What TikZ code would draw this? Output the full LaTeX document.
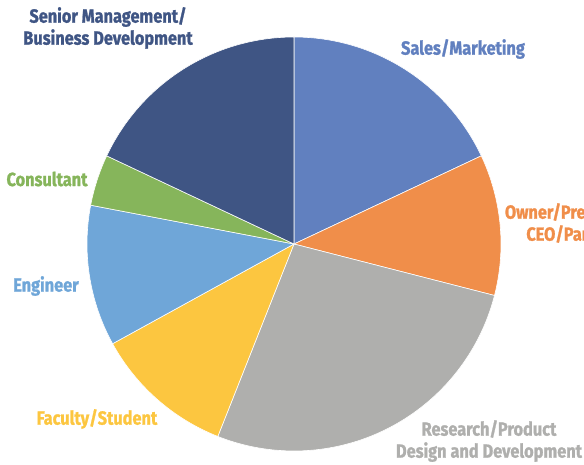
\documentclass[tikz,border=0pt]{standalone}
\usepackage{fontspec}
\setmainfont[FakeStretch=0.86, BoldFeatures={FakeBold=1.2}]{Fira Sans}
\definecolor{sales}{HTML}{6180BF}
\definecolor{owner}{HTML}{F08E4A}
\definecolor{research}{HTML}{AFAFAD}
\definecolor{faculty}{HTML}{FCC640}
\definecolor{engineer}{HTML}{6FA6D8}
\definecolor{consult}{HTML}{86B55B}
\definecolor{senior}{HTML}{3F5584}
\tikzset{
  slice/.style={draw=white, line width=0.6pt},
  lbl/.style={font=\bfseries\fontsize{19}{22}\selectfont, align=center, inner sep=0pt}
}
\begin{document}
\begin{tikzpicture}[x=1pt,y=1pt]
        \useasboundingbox (0,0) rectangle (584,464);
        \coordinate (c) at (294,220);
        \filldraw[slice,fill=sales] (c) -- ++(90:207) arc[start angle=90, end angle=25.2, radius=207] -- cycle;
        \filldraw[slice,fill=owner] (c) -- ++(25.2:207) arc[start angle=25.2, end angle=-14.4, radius=207] -- cycle;
        \filldraw[slice,fill=research] (c) -- ++(-14.4:207) arc[start angle=-14.4, end angle=-111.6, radius=207] -- cycle;
        \filldraw[slice,fill=faculty] (c) -- ++(-111.6:207) arc[start angle=-111.6, end angle=-151.2, radius=207] -- cycle;
        \filldraw[slice,fill=engineer] (c) -- ++(-151.2:207) arc[start angle=-151.2, end angle=-190.8, radius=207] -- cycle;
        \filldraw[slice,fill=consult] (c) -- ++(-190.8:207) arc[start angle=-190.8, end angle=-205.2, radius=207] -- cycle;
        \filldraw[slice,fill=senior] (c) -- ++(-205.2:207) arc[start angle=-205.2, end angle=-270, radius=207] -- cycle;
        % labels
        \node[lbl,text=senior] (lsenior) at (108,436) {Senior Management/\\Business Development};
        \node[lbl,text=sales] (lsales) at (463,415) {Sales/Marketing};
        \node[lbl,text=owner] (lowner) at (573,241) {Owner/President/\\CEO/Partner};
        \node[lbl,text=consult] (lconsult) at (47,285) {Consultant};
        \node[lbl,text=engineer] (lengineer) at (46,178) {Engineer};
        \node[lbl,text=faculty] (lfaculty) at (97,45) {Faculty/Student};
        \node[lbl,text=research] (lresearch) at (489,23) {Research/Product\\Design and Development};
    \end{tikzpicture}
\end{document}
